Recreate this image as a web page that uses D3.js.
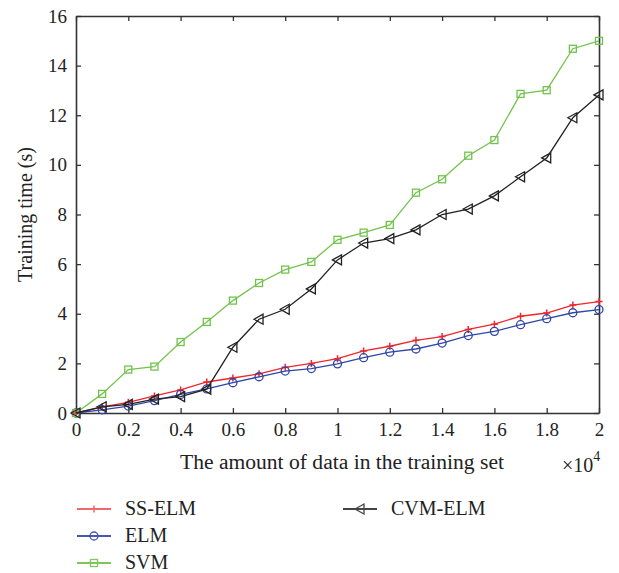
<!DOCTYPE html>
<meta charset="utf-8">
<html>
  <head>
    <title>training time</title>
    <script src="https://d3js.org/d3.v7.min.js"></script>
    <style>
      body { margin: 0; background: #fff; }
      text { font-family: "Liberation Serif", "DejaVu Serif", serif; fill: #222; }
    </style>
  </head>
  <body>
    <div id="chart"></div>
    <script type="text/javascript">
        /* data */
        var xs = [0, 0.1, 0.2, 0.3, 0.4, 0.5, 0.6, 0.7, 0.8, 0.9, 1.0,
                  1.1, 1.2, 1.3, 1.4, 1.5, 1.6, 1.7, 1.8, 1.9, 2.0];
        var ss_elm = [0, 0.25, 0.43, 0.69, 0.93, 1.25, 1.41, 1.58, 1.84, 2.0, 2.19,
                      2.5, 2.69, 2.93, 3.08, 3.37, 3.58, 3.9, 4.03, 4.35, 4.49];
        var elm = [0, 0.13, 0.28, 0.5, 0.75, 0.97, 1.22, 1.46, 1.69, 1.79, 1.98,
                   2.23, 2.45, 2.58, 2.82, 3.12, 3.29, 3.56, 3.8, 4.04, 4.17];
        var svm = [0, 0.77, 1.75, 1.87, 2.86, 3.67, 4.53, 5.24, 5.78, 6.09, 6.98,
                   7.27, 7.58, 8.88, 9.42, 10.37, 11.0, 12.86, 13.01, 14.68, 15.0];
        var cvm_elm = [0, 0.25, 0.35, 0.56, 0.66, 0.96, 2.65, 3.78, 4.18, 5.0, 6.17,
                       6.85, 7.03, 7.38, 8.0, 8.22, 8.75, 9.52, 10.28, 11.9, 12.82];
        var x_ticks = [0, 0.2, 0.4, 0.6, 0.8, 1, 1.2, 1.4, 1.6, 1.8, 2];
        var y_ticks = [0, 2, 4, 6, 8, 10, 12, 14, 16];

        var series = [
            {name: "SS-ELM", values: ss_elm, color: "#f0262b", legend: "#f26868", marker: "plus"},
            {name: "ELM", values: elm, color: "#2f46a8", legend: "#4658b0", marker: "circle"},
            {name: "SVM", values: svm, color: "#72c34c", legend: "#7cc65a", marker: "square"},
            {name: "CVM-ELM", values: cvm_elm, color: "#222222", legend: "#444444", marker: "triangle"}
        ];

        /* layout */
        var total_width = 619, total_height = 573;
        var plot = {left: 76, right: 599, top: 16, bottom: 413};

        var svg = d3.select("#chart").append("svg")
                .attr("width", total_width)
                .attr("height", total_height);

        var x = d3.scaleLinear().domain([0, 2]).range([plot.left, plot.right]);
        var y = d3.scaleLinear().domain([0, 16]).range([plot.bottom, plot.top]);

        /* axes: ticks inward on all four sides */
        var axis_color = "#333";
        var tick_len = 5;
        var ax = svg.append("g");
        ax.append("g").attr("transform", "translate(0," + plot.bottom + ")")
            .call(d3.axisBottom(x).tickValues(x_ticks).tickSizeInner(-tick_len).tickSizeOuter(0).tickPadding(10)
                .tickFormat(function(d){ return d3.format("")(+d.toFixed(1)); }));
        ax.append("g").attr("transform", "translate(0," + plot.top + ")")
            .call(d3.axisTop(x).tickValues(x_ticks).tickSizeInner(-tick_len).tickSizeOuter(0).tickFormat(""));
        ax.append("g").attr("transform", "translate(" + plot.left + ",0)")
            .call(d3.axisLeft(y).tickValues(y_ticks).tickSizeInner(-tick_len).tickSizeOuter(0).tickPadding(9));
        ax.append("g").attr("transform", "translate(" + plot.right + ",0)")
            .call(d3.axisRight(y).tickValues(y_ticks).tickSizeInner(-tick_len).tickSizeOuter(0).tickFormat(""));
        ax.selectAll(".domain").attr("stroke", axis_color).attr("stroke-width", 1.6);
        ax.selectAll(".tick line").attr("stroke", axis_color).attr("stroke-width", 1.3);
        ax.selectAll(".tick text").attr("font-size", 19)
            .attr("font-family", "Liberation Serif, DejaVu Serif, serif").attr("fill", "#222");

        /* lines */
        var line = d3.line()
            .x(function(d){ return x(d.x); })
            .y(function(d){ return y(d.y); });

        function draw_marker(g, type, color, cx, cy) {
            if (type == "plus") {
                g.append("path").attr("d", "M" + (cx - 3.5) + "," + cy + "h7M" + cx + "," + (cy - 3.5) + "v7")
                    .attr("stroke", color).attr("stroke-width", 1.5).attr("fill", "none");
            } else if (type == "circle") {
                g.append("circle").attr("cx", cx).attr("cy", cy).attr("r", 4)
                    .attr("stroke", color).attr("stroke-width", 1.3).attr("fill", "none");
            } else if (type == "square") {
                g.append("rect").attr("x", cx - 3.5).attr("y", cy - 3.5).attr("width", 7).attr("height", 7)
                    .attr("stroke", color).attr("stroke-width", 1.3).attr("fill", "none");
            } else {
                g.append("path").attr("d", "M" + (cx - 5) + "," + cy + "L" + (cx + 4) + "," + (cy - 5) +
                        "L" + (cx + 4) + "," + (cy + 5) + "Z")
                    .attr("stroke", color).attr("stroke-width", 1.3).attr("fill", "none");
            }
        }

        series.forEach(function(s) {
            var pts = xs.map(function(v, i){ return {x: v, y: s.values[i]}; });
            var g = svg.append("g");
            g.append("path")
                .attr("d", line(pts))
                .attr("stroke", s.color)
                .attr("stroke-width", 1.3)
                .attr("fill", "none");
            pts.forEach(function(p){ draw_marker(g, s.marker, s.color, x(p.x), y(p.y)); });
        });

        /* axis titles */
        svg.append("text")
            .attr("x", 180)
            .attr("y", 469)
            .attr("font-size", 20)
            .attr("textLength", 324)
            .attr("lengthAdjust", "spacingAndGlyphs")
            .text("The amount of data in the training set");
        var mult = svg.append("text")
            .attr("x", 562)
            .attr("y", 472)
            .attr("font-size", 20);
        mult.append("tspan").text("\u00d710");
        mult.append("tspan").attr("dy", -11).attr("font-size", 14).text("4");

        svg.append("text")
            .attr("transform", "translate(32," + ((plot.top + plot.bottom) / 2) + ") rotate(-90)")
            .attr("text-anchor", "middle")
            .attr("font-size", 20)
            .text("Training time (s)");

        /* legend */
        var legend_pos = [
            {x: 77, y: 509}, {x: 77, y: 536}, {x: 77, y: 563}, {x: 343, y: 509}
        ];
        series.forEach(function(s, i) {
            var p = legend_pos[i];
            var g = svg.append("g");
            g.append("line").attr("x1", p.x).attr("x2", p.x + 34).attr("y1", p.y).attr("y2", p.y)
                .attr("stroke", s.legend).attr("stroke-width", 2);
            draw_marker(g, s.marker, s.legend, p.x + 17, p.y);
            g.append("text").attr("x", p.x + 48).attr("y", p.y + 6)
                .attr("font-size", 20).text(s.name);
        });
    </script>
  </body>
</html>
